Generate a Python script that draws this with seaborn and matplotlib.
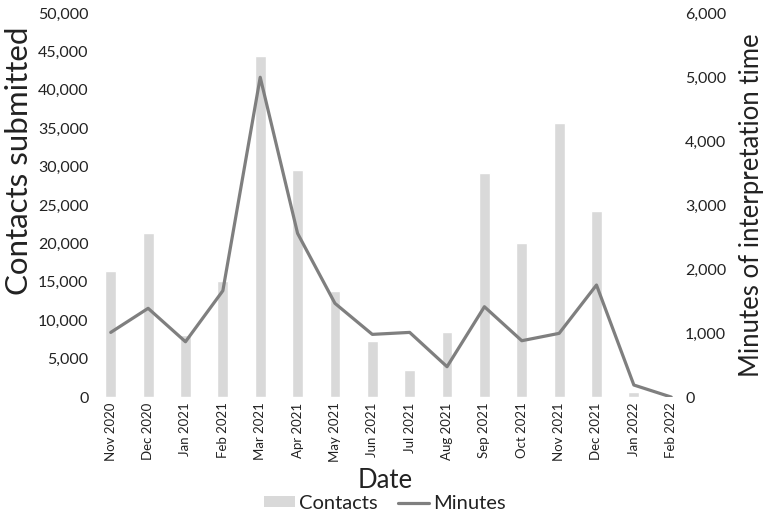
import numpy as np
import pandas as pd
import matplotlib
matplotlib.use("Agg")
import matplotlib.pyplot as plt
import seaborn as sns
from matplotlib.ticker import FuncFormatter, MultipleLocator
from matplotlib.patches import Patch
from matplotlib.lines import Line2D

dates = ["Nov 2020", "Dec 2020", "Jan 2021", "Feb 2021", "Mar 2021", "Apr 2021",
         "May 2021", "Jun 2021", "Jul 2021", "Aug 2021", "Sep 2021", "Oct 2021",
         "Nov 2021", "Dec 2021", "Jan 2022", "Feb 2022"]
contacts = [16400, 21400, 8100, 15100, 44400, 29600, 13800, 7300,
            3500, 8500, 29200, 20000, 35700, 24200, 700, 150]
minutes = [1010, 1386, 864, 1661, 4995, 2557, 1464, 979,
           1010, 474, 1411, 880, 995, 1750, 188, 0]

sns.set_theme(style="white")
plt.rcParams['font.family'] = ['Lato', 'DejaVu Sans']
text_color = "#222222"

df = pd.DataFrame({"Date": dates, "Contacts": contacts, "Minutes": minutes,
                   "pos": np.arange(len(dates))})

fig = plt.figure(figsize=(7.7, 5.17), dpi=100)
ax = fig.add_axes([0.122, 0.232, 0.757, 0.743])

bar_color = "#d9d9d9"
line_color = "#7f7f7f"

sns.barplot(data=df, x="Date", y="Contacts", color=bar_color, width=0.29,
            saturation=1, ax=ax, order=dates)
ax.set_ylim(0, 50000)
ax.yaxis.set_major_locator(MultipleLocator(5000))
ax.yaxis.set_major_formatter(FuncFormatter(lambda v, p: f"{v:,.0f}"))
ax.set_xlim(-0.45, 15.15)

ax2 = ax.twinx()
sns.lineplot(data=df, x="pos", y="Minutes", color=line_color, linewidth=2.3,
             ax=ax2)
ax2.set_ylim(0, 6000)
ax2.yaxis.set_major_locator(MultipleLocator(1000))
ax2.yaxis.set_major_formatter(FuncFormatter(lambda v, p: f"{v:,.0f}"))
ax2.set_xlim(-0.45, 15.15)

for a in (ax, ax2):
    for s in a.spines.values():
        s.set_visible(False)
    a.grid(False)
    a.tick_params(length=0, colors=text_color)

ax.tick_params(axis="y", labelsize=11.5, pad=4)
ax2.tick_params(axis="y", labelsize=11.5, pad=6)
ax.set_xticks(range(len(dates)))
ax.set_xticklabels(dates, rotation=90, fontsize=9.5, color=text_color)
ax.tick_params(axis="x", pad=4)

ax.set_ylabel("Contacts submitted", fontsize=22.5, color=text_color)
ax.yaxis.set_label_coords(-0.104, 0.615)
ax2.set_ylabel("Minutes of interpretation time", fontsize=18.5, color=text_color)
ax2.yaxis.set_label_coords(1.106, 0.5)
ax.set_xlabel("Date", fontsize=18.5, color=text_color, labelpad=4)
ax2.set_xlabel("")

handles = [Patch(facecolor=bar_color, edgecolor="none", label="Contacts"),
           Line2D([0], [0], color=line_color, linewidth=2.3, label="Minutes")]
fig.legend(handles=handles, loc="lower center", bbox_to_anchor=(0.5, -0.025), ncol=2,
           frameon=False, fontsize=14.5, handlelength=1.55, handleheight=0.45,
           handletextpad=0.2, columnspacing=1.0, labelcolor=text_color)

fig.savefig("out.png", dpi=100)
